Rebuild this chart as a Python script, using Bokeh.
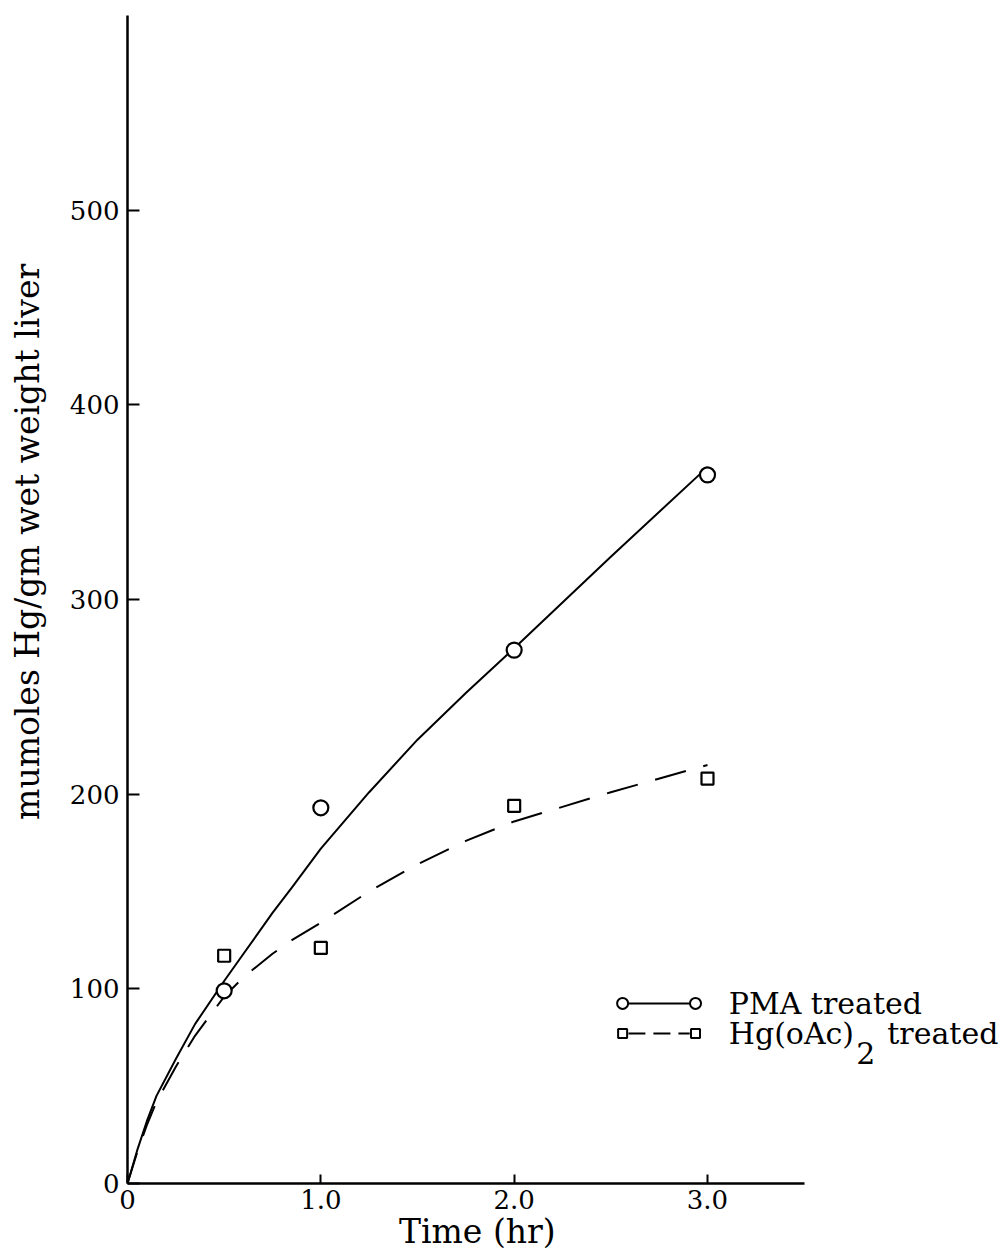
from bokeh.plotting import figure
from bokeh.models import Range1d, FixedTicker, Label
from bokeh.embed import file_html
from bokeh.resources import INLINE

# ---- data ----
time_pts = [0.5, 1.0, 2.0, 3.0]
pma_vals = [99, 193, 274, 364]
hg_vals = [117, 121, 194, 208]

curve_t = [0, 0.05, 0.1, 0.15, 0.25, 0.35, 0.5, 0.6, 0.75, 0.85, 1.0, 1.25, 1.5, 1.75, 2.0, 2.5, 3.0]
pma_curve = [0, 17, 32, 45, 64, 82, 104, 118, 139, 152, 172, 201, 228, 252, 275, 322, 368]
hg_curve = [0, 16, 30, 42, 60, 76, 96, 106, 118, 125, 134, 150, 164, 176, 186, 201, 215]

x_ticks = [0, 1, 2, 3]
x_tick_labels = ["0", "1.0", "2.0", "3.0"]
y_ticks = [0, 100, 200, 300, 400, 500]

series_names = ["PMA treated", "Hg(oAc)", "2", "treated"]
x_title = "Time (hr)"
y_title = "mumoles Hg/gm wet weight liver"

FONT = "DejaVu Serif"
NB = "\u00a0"

p = figure(width=1005, height=1256, output_backend="svg", toolbar_location=None,
           x_range=Range1d(0, 4.5414), y_range=Range1d(0, 600),
           min_border_left=127, min_border_right=0, min_border_top=15, min_border_bottom=73)
p.background_fill_color = "white"
p.border_fill_color = "white"
p.outline_line_color = None
p.grid.visible = False

for ax in (p.xaxis[0], p.yaxis[0]):
    ax.axis_line_width = 2.5
    ax.axis_line_color = "black"
    ax.major_tick_line_width = 2
    ax.major_tick_line_color = "black"
    ax.minor_tick_line_color = None
    ax.major_tick_out = 0
    ax.major_label_text_font = FONT
    ax.major_label_text_font_size = "26px"
    ax.major_label_text_color = "black"
    ax.axis_label_text_font = FONT
    ax.axis_label_text_font_style = "normal"
    ax.axis_label_text_color = "black"

p.xaxis.bounds = (0, 3.5)
p.xaxis.ticker = FixedTicker(ticks=x_ticks)
p.xaxis.major_label_overrides = {t: l for t, l in zip(x_ticks, x_tick_labels)}
p.xaxis.major_tick_in = 9
p.xaxis.major_label_standoff = 6
p.xaxis.axis_label = x_title + NB * 17
p.xaxis.axis_label_text_font_size = "33px"
p.xaxis.axis_label_standoff = 0

p.yaxis.ticker = FixedTicker(ticks=y_ticks)
p.yaxis.major_tick_in = 12
p.yaxis.major_label_standoff = 8
p.yaxis.axis_label = NB * 11 + y_title
p.yaxis.axis_label_text_font_size = "33px"
p.yaxis.axis_label_standoff = 20

# fitted curves
p.line(curve_t, pma_curve, line_width=2, line_color="black", line_join="round")
p.line(curve_t, hg_curve, line_width=2, line_color="black", line_dash="32 18")

# data points
p.scatter(time_pts, pma_vals, marker="circle", size=15, fill_color="white",
          line_color="black", line_width=2.2)
p.scatter(time_pts, hg_vals, marker="square", size=12, fill_color="white",
          line_color="black", line_width=2.2)

# legend (layout positions)
lx0, lx1 = 2.561, 2.938
ly1, ly2 = 92.5, 77.0
p.line([lx0 + 0.03, lx1 - 0.03], [ly1, ly1], line_width=2, line_color="black")
p.scatter([lx0, lx1], [ly1, ly1], marker="circle", size=11, fill_color="white",
          line_color="black", line_width=2)
p.line([lx0 + 0.03, lx1 - 0.03], [ly2, ly2], line_width=2, line_color="black", line_dash="17 8")
p.scatter([lx0, lx1], [ly2, ly2], marker="square", size=9, fill_color="white",
          line_color="black", line_width=2)

lab = dict(text_align="left", text_baseline="middle", text_font=FONT,
           text_font_size="30px", text_color="black")
p.add_layout(Label(x=3.11, y=ly1, text=series_names[0], **lab))
p.add_layout(Label(x=3.11, y=ly2, text=series_names[1], **lab))
p.add_layout(Label(x=3.77, y=67.0, text=series_names[2], **lab))
p.add_layout(Label(x=3.93, y=ly2, text=series_names[3], **lab))

open("out.html", "w").write(file_html(p, INLINE))
